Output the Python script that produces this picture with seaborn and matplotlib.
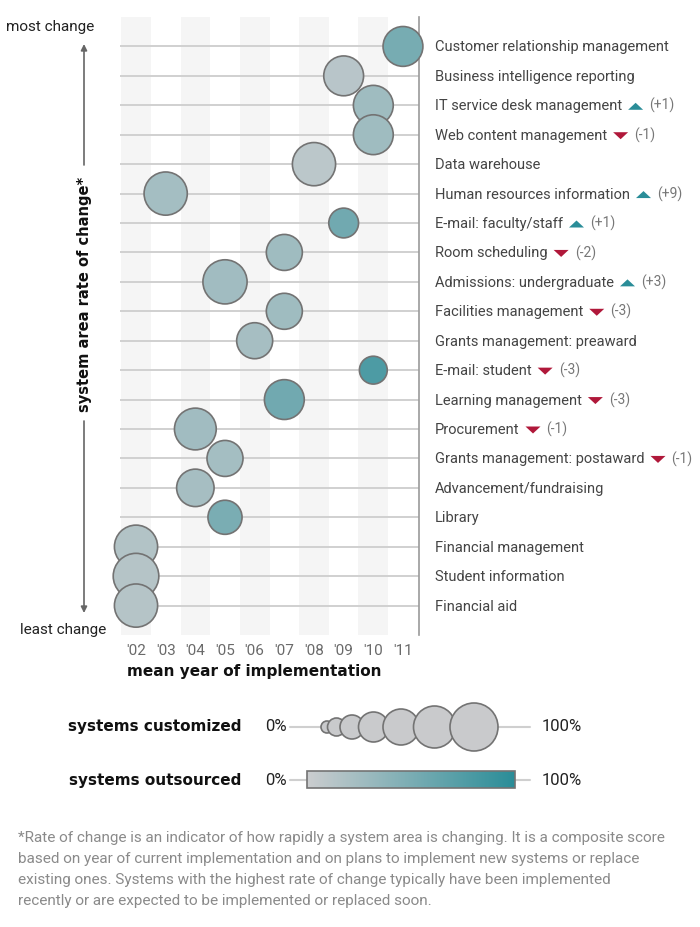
import numpy as np
import pandas as pd
import matplotlib
matplotlib.use("Agg")
import matplotlib.pyplot as plt
from matplotlib.colors import LinearSegmentedColormap
from matplotlib.patches import Circle, Rectangle, Polygon
import seaborn as sns

# ---------------- data ----------------
systems = [
    "Customer relationship management",
    "Business intelligence reporting",
    "IT service desk management",
    "Web content management",
    "Data warehouse",
    "Human resources information",
    "E-mail: faculty/staff",
    "Room scheduling",
    "Admissions: undergraduate",
    "Facilities management",
    "Grants management: preaward",
    "E-mail: student",
    "Learning management",
    "Procurement",
    "Grants management: postaward",
    "Advancement/fundraising",
    "Library",
    "Financial management",
    "Student information",
    "Financial aid",
]
mean_year = [2011, 2009, 2010, 2010, 2008, 2003, 2009, 2007, 2005, 2007,
             2006, 2010, 2007, 2004, 2005, 2004, 2005, 2002, 2002, 2002]
customized = [83, 83, 83, 83, 90, 90, 62, 75, 92, 75,
              75, 58, 83, 87, 75, 78, 71, 90, 95, 90]
outsourced = [52, 12, 27, 27, 10, 24, 56, 27, 26, 27,
              23, 78, 56, 26, 24, 23, 50, 16, 14, 14]
rank_change = [0, 0, 1, -1, 0, 9, 1, -2, 3, -3,
               0, -3, -3, -1, -1, 0, 0, 0, 0, 0]
year_ticks = [2002, 2003, 2004, 2005, 2006, 2007, 2008, 2009, 2010, 2011]
year_labels = ["'02", "'03", "'04", "'05", "'06", "'07", "'08", "'09", "'10", "'11"]
legend_custom = [25, 37.5, 50, 62.5, 75, 87.5, 100]

footnote_lines = [
    "*Rate of change is an indicator of how rapidly a system area is changing. It is a composite score",
    "based on year of current implementation and on plans to implement new systems or replace",
    "existing ones. Systems with the highest rate of change typically have been implemented",
    "recently or are expected to be implemented or replaced soon.",
]

# ---------------- style ----------------
sns.set_theme(style="white")
plt.rcParams["font.family"] = ["Roboto", "DejaVu Sans"]

W, H = 700, 928
DPI = 100
fig = plt.figure(figsize=(W / DPI, H / DPI), dpi=DPI)
fig.patch.set_facecolor("white")

L, R, T, B = 120, 419, 18, 636
ax = fig.add_axes([L / W, 1 - B / H, (R - L) / W, (B - T) / H])
ax.set_facecolor("none")

cmap = LinearSegmentedColormap.from_list("outsourced", ["#cbcdcf", "#2a8d98"])
R_MAX_PX = 24.0
UP_COL, DOWN_COL = "#2a8d98", "#b0183a"


def marker_area(pct):
    r_px = R_MAX_PX * pct / 100.0
    d_pt = 2 * r_px * 72.0 / DPI
    return d_pt ** 2


df = pd.DataFrame({
    "system": systems,
    "mean_year": mean_year,
    "row": np.arange(len(systems)),
    "customized": customized,
    "outsourced": outsourced,
})

# background bands and row lines
for yr in year_ticks:
    if yr % 2 == 0:
        ax.axvspan(yr - 0.5, yr + 0.5, color="#f5f5f5", zorder=0, lw=0)
for r in df["row"]:
    ax.axhline(r, color="#d0d0d0", lw=1.4, zorder=1)

sizes_map = {v: marker_area(v) for v in sorted(set(customized))}
sns.scatterplot(
    data=df, x="mean_year", y="row",
    hue="outsourced", palette=cmap, hue_norm=(0, 100),
    size="customized", sizes=sizes_map,
    edgecolor="#737373", linewidth=1.2, alpha=1,
    legend=False, zorder=3, ax=ax, clip_on=False,
)

ax.set_xlim(2001.46, 2011.54)
ax.set_ylim(20, -1)
ax.set_xticks(year_ticks)
ax.set_xticklabels(year_labels, color="#6a6a6a", fontsize=11)
ax.set_yticks([])
ax.tick_params(axis="x", length=0, pad=6)
ax.set_xlabel("")
ax.set_ylabel("")
for s in ["top", "left", "bottom"]:
    ax.spines[s].set_visible(False)
ax.spines["right"].set_color("#9a9a9a")
ax.spines["right"].set_linewidth(1.2)

# right-hand labels
lab_x = (435 - L) / (R - L)
label_texts = []
for i, name in enumerate(systems):
    t = ax.text(lab_x, i, name, transform=ax.get_yaxis_transform(),
                ha="left", va="center", fontsize=10.5, color="#444444", clip_on=False)
    label_texts.append(t)

# ---------------- overlay in pixel coordinates ----------------
ov = fig.add_axes([0, 0, 1, 1], zorder=5)
ov.axis("off")
ov.patch.set_alpha(0)

fig.canvas.draw()
renderer = fig.canvas.get_renderer()
TRI_W, TRI_H, GAP1, GAP2 = 15, 7, 6, 6
for i, t in enumerate(label_texts):
    ch = rank_change[i]
    if ch == 0:
        continue
    bb = t.get_window_extent(renderer)
    x0 = bb.x1 + GAP1
    yc = H - ax.transData.transform((0, i))[1] + 1
    if ch > 0:
        pts = [(x0, yc + TRI_H / 2), (x0 + TRI_W, yc + TRI_H / 2), (x0 + TRI_W / 2, yc - TRI_H / 2)]
        col = UP_COL
    else:
        pts = [(x0, yc - TRI_H / 2), (x0 + TRI_W, yc - TRI_H / 2), (x0 + TRI_W / 2, yc + TRI_H / 2)]
        col = DOWN_COL
    ov.add_patch(Polygon(pts, closed=True, facecolor=col, edgecolor="none", zorder=4))
    ov.text(x0 + TRI_W + GAP2, yc - 1.5, f"({ch:+d})", ha="left", va="center",
            fontsize=10, color="#777777")

ov.text(50, 27, "most change", ha="center", va="center", fontsize=11, color="#222222")
ov.text(63, 630, "least change", ha="center", va="center", fontsize=11, color="#222222")
ov.text(84, 294, "system area rate of change*", rotation=90, ha="center", va="center",
        fontsize=10.5, fontweight="bold", color="#111111", family="DejaVu Sans")
arrow_kw = dict(arrowstyle="-|>", color="#666666", lw=1.2, shrinkA=0, shrinkB=0, mutation_scale=9)
ov.annotate("", xy=(84, 45), xytext=(84, 166), arrowprops=arrow_kw)
ov.annotate("", xy=(84, 614), xytext=(84, 422), arrowprops=arrow_kw)

ov.text(254, 672, "mean year of implementation", ha="center", va="center",
        fontsize=11, fontweight="bold", color="#111111", family="DejaVu Sans")

# legend: systems customized
ov.text(155, 727, "systems customized", ha="center", va="center", fontsize=11,
        fontweight="bold", color="#111111", family="DejaVu Sans")
ov.text(276, 727, "0%", ha="center", va="center", fontsize=12, color="#222222")
ov.text(562, 727, "100%", ha="center", va="center", fontsize=12, color="#222222")
ov.plot([290, 530], [728, 728], color="#cfcfcf", lw=1.5, zorder=1)
cx = 321.0
prev_r = None
for p in legend_custom:
    r = R_MAX_PX * p / 100.0
    if prev_r is None:
        cx = cx + r
    else:
        cx = cx + prev_r + r - 5.5
    ov.add_patch(Circle((cx, 728), r, facecolor="#c9cacc", edgecolor="#737373", lw=1.2, zorder=2))
    prev_r = r

# legend: systems outsourced
ov.text(155, 781, "systems outsourced", ha="center", va="center", fontsize=11,
        fontweight="bold", color="#111111", family="DejaVu Sans")
ov.text(276, 781, "0%", ha="center", va="center", fontsize=12, color="#222222")
ov.text(562, 781, "100%", ha="center", va="center", fontsize=12, color="#222222")
ov.plot([290, 530], [781, 781], color="#cfcfcf", lw=1.5, zorder=1)
grad = np.linspace(0, 1, 256).reshape(1, -1)
ov.imshow(grad, cmap=cmap, extent=(307, 515, 789, 772), aspect="auto", zorder=2)
ov.add_patch(Rectangle((307, 772), 208, 17, fill=False, edgecolor="#737373", lw=1.2, zorder=3))

for k, line in enumerate(footnote_lines):
    ov.text(18, 838 + 21 * k, line, ha="left", va="center", fontsize=11, color="#8a8a8a")

ov.set_xlim(0, W)
ov.set_ylim(H, 0)

fig.savefig("out.png", dpi=DPI)
